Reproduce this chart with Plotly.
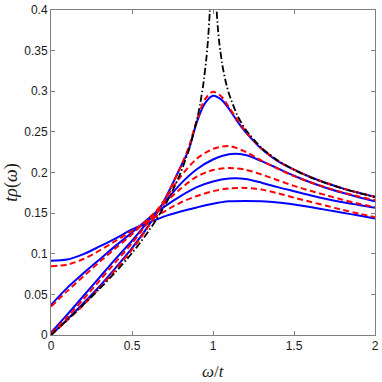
import plotly.graph_objects as go

# ---- data ----
OMEGA = [0, 0.1, 0.2, 0.3, 0.4, 0.5, 0.6, 0.7, 0.8, 0.9, 1.0, 1.1, 1.2, 1.3, 1.4, 1.5, 1.6, 1.7, 1.8, 1.9, 2.0]

BLUE_A = [0.0915, 0.0928, 0.0995, 0.109, 0.119, 0.130, 0.138, 0.146, 0.152, 0.157, 0.1615, 0.1645, 0.165, 0.1645, 0.163, 0.1605, 0.1575, 0.154, 0.1505, 0.147, 0.1435]
RED_A = [0.0846, 0.0865, 0.0935, 0.104, 0.116, 0.128, 0.140, 0.152, 0.163, 0.171, 0.177, 0.1805, 0.181, 0.179, 0.1745, 0.169, 0.164, 0.159, 0.154, 0.1495, 0.145]
BLUE_B = [0.037, 0.058, 0.076, 0.093, 0.110, 0.126, 0.143, 0.158, 0.171, 0.182, 0.189, 0.1925, 0.192, 0.1875, 0.182, 0.177, 0.172, 0.1675, 0.1635, 0.160, 0.1565]
RED_B = [0.035, 0.054, 0.072, 0.090, 0.107, 0.124, 0.143, 0.162, 0.180, 0.195, 0.203, 0.2055, 0.2035, 0.1975, 0.1905, 0.1835, 0.1775, 0.172, 0.1665, 0.1615, 0.1575]
BLUE_C = [0.003, 0.025, 0.048, 0.071, 0.094, 0.116, 0.140, 0.163, 0.186, 0.204, 0.216, 0.2225, 0.2215, 0.214, 0.205, 0.196, 0.188, 0.181, 0.175, 0.1695, 0.1645]
RED_C = [0.002, 0.022, 0.044, 0.067, 0.090, 0.113, 0.139, 0.166, 0.195, 0.217, 0.229, 0.2325, 0.2255, 0.2145, 0.2045, 0.1955, 0.188, 0.1815, 0.1755, 0.1705, 0.166]

OMEGA_D = [0, 0.1, 0.2, 0.3, 0.4, 0.5, 0.6, 0.7, 0.8, 0.85, 0.9, 0.95, 1.0, 1.05, 1.1, 1.15, 1.2, 1.3, 1.4, 1.5, 1.6, 1.7, 1.8, 1.9, 2.0]
BLUE_D = [0, 0.019, 0.039, 0.060, 0.083, 0.107, 0.134, 0.166, 0.207, 0.228, 0.262, 0.285, 0.2945, 0.290, 0.278, 0.263, 0.250, 0.229, 0.214, 0.2035, 0.1945, 0.187, 0.1805, 0.175, 0.170]
RED_D = [0, 0.018, 0.037, 0.058, 0.081, 0.105, 0.133, 0.165, 0.207, 0.231, 0.264, 0.290, 0.2995, 0.294, 0.280, 0.265, 0.251, 0.2295, 0.2145, 0.2035, 0.1945, 0.187, 0.1805, 0.175, 0.170]

OMEGA_BARE = [0, 0.1, 0.2, 0.3, 0.4, 0.5, 0.55, 0.6, 0.65, 0.7, 0.75, 0.8, 0.85, 0.9, 0.92, 0.94, 0.96, 0.97, 0.98, 0.99,
              1.01, 1.02, 1.03, 1.04, 1.06, 1.08, 1.1, 1.15, 1.2, 1.3, 1.4, 1.5, 1.6, 1.7, 1.8, 1.9, 2.0]
BARE = [0, 0.0184, 0.0373, 0.0569, 0.0778, 0.1008, 0.1135, 0.1271, 0.1421, 0.1585, 0.1774, 0.1996, 0.2271, 0.2640, 0.2836, 0.3082, 0.3423, 0.3654, 0.398, 0.453,
        0.4576, 0.4071, 0.3781, 0.3575, 0.3297, 0.3105, 0.2959, 0.2704, 0.2532, 0.2302, 0.2148, 0.2033, 0.1942, 0.1867, 0.1803, 0.1748, 0.1698]

X_TICKS = [0, 0.5, 1, 1.5, 2]
X_TICK_TEXT = ["0", "0.5", "1", "1.5", "2"]
Y_TICKS = [0, 0.05, 0.1, 0.15, 0.2, 0.25, 0.3, 0.35, 0.4]
Y_TICK_TEXT = ["0", "0.05", "0.1", "0.15", "0.2", "0.25", "0.3", "0.35", "0.4"]

BLUE = "#0000ff"
RED = "#ff0000"
DASH = "6px,3.5px"
DASHDOT = "7px,2.5px,1.5px,2.5px"

fig = go.Figure()

for y in (BLUE_A, BLUE_B, BLUE_C):
    fig.add_trace(go.Scatter(x=OMEGA, y=y, mode="lines",
                             line=dict(color=BLUE, width=2, shape="spline", smoothing=0.8)))
fig.add_trace(go.Scatter(x=OMEGA_D, y=BLUE_D, mode="lines",
                         line=dict(color=BLUE, width=2, shape="spline", smoothing=0.8)))
for y in (RED_A, RED_B, RED_C):
    fig.add_trace(go.Scatter(x=OMEGA, y=y, mode="lines",
                             line=dict(color=RED, width=2, dash=DASH, shape="spline", smoothing=0.8)))
fig.add_trace(go.Scatter(x=OMEGA_D, y=RED_D, mode="lines",
                         line=dict(color=RED, width=2, dash=DASH, shape="spline", smoothing=0.8)))
fig.add_trace(go.Scatter(x=OMEGA_BARE, y=BARE, mode="lines",
                         line=dict(color="black", width=1.8, dash=DASHDOT, shape="spline", smoothing=0.6)))

axis_common = dict(
    showline=True, linecolor="#808080", linewidth=1, mirror="allticks",
    ticks="inside", ticklen=4, tickcolor="#808080", tickwidth=1,
    showgrid=False, zeroline=False, ticklabeloverflow="allow",
    tickfont=dict(family="Liberation Sans, Arial, sans-serif", size=12, color="#1a1a1a"),
)

fig.update_layout(
    width=382, height=382, autosize=False,
    margin=dict(l=51, r=3, t=4, b=47),
    paper_bgcolor="white", plot_bgcolor="white",
    showlegend=False,
    xaxis=dict(range=[0, 2], tickvals=X_TICKS, ticktext=X_TICK_TEXT, **axis_common),
    yaxis=dict(range=[0, 0.4], tickvals=Y_TICKS, ticktext=Y_TICK_TEXT, **axis_common),
    annotations=[
        dict(text="<i>ω</i>/<i>t</i>", xref="paper", yref="paper", x=0.5, y=-0.113,
             xanchor="center", yanchor="middle", showarrow=False,
             font=dict(family="Liberation Serif, serif", size=17, color="#1a1a1a")),
        dict(text="<i>tρ</i>(<i>ω</i>)", xref="paper", yref="paper", x=-0.122, y=0.47,
             xanchor="center", yanchor="middle", showarrow=False, textangle=-90,
             font=dict(family="Liberation Serif, serif", size=18, color="#1a1a1a")),
    ],
)

fig.write_html("out.html", config={"displayModeBar": False},
               post_script="document.body.style.margin='0';document.body.style.overflow='hidden';")
